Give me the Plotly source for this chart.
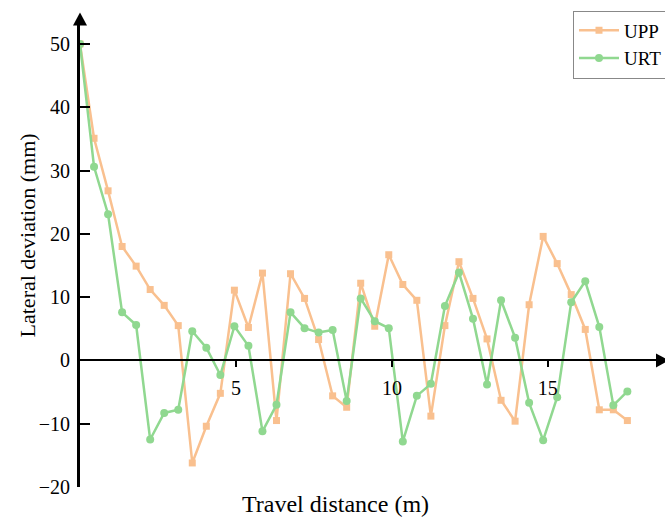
import plotly.graph_objects as go

# ---- data ----
distance_m = [0.0, 0.45, 0.9, 1.35, 1.8, 2.25, 2.7, 3.15, 3.6, 4.05,
              4.5, 4.95, 5.4, 5.85, 6.3, 6.75, 7.2, 7.65, 8.1, 8.55,
              9.0, 9.45, 9.9, 10.35, 10.8, 11.25, 11.7, 12.15, 12.6, 13.05,
              13.5, 13.95, 14.4, 14.85, 15.3, 15.75, 16.2, 16.65, 17.1, 17.55]

upp_mm = [50, 35.1, 26.8, 18.0, 14.9, 11.2, 8.7, 5.5, -16.2, -10.4,
          -5.2, 11.1, 5.2, 13.8, -9.5, 13.7, 9.8, 3.3, -5.6, -7.4,
          12.2, 5.4, 16.7, 12.0, 9.5, -8.8, 5.5, 15.6, 9.8, 3.4,
          -6.3, -9.6, 8.8, 19.6, 15.3, 10.4, 4.9, -7.8, -7.8, -9.5]

urt_mm = [50, 30.6, 23.1, 7.6, 5.6, -12.5, -8.3, -7.8, 4.6, 2.0,
          -2.3, 5.4, 2.3, -11.2, -7.0, 7.6, 5.1, 4.4, 4.8, -6.4,
          9.8, 6.2, 5.1, -12.8, -5.6, -3.7, 8.6, 13.9, 6.6, -3.8,
          9.5, 3.6, -6.7, -12.6, -5.8, 9.2, 12.5, 5.3, -7.1, -4.9]

y_ticks = [-20, -10, 0, 10, 20, 30, 40, 50]
x_ticks = [5, 10, 15]

series_names = ["UPP", "URT"]

# ---- layout geometry (body margin removed by post_script) ----
W, H = 665, 519
ML = 80
MT = 24.5
MB = 519 - 486.6
MR = 665 - 657
PW, PH = W - ML - MR, H - MT - MB
Y_MIN, Y_MAX = -20, 53
X_MIN, X_MAX = 0, 18.5

FONT = "Liberation Serif, Times New Roman, serif"
ORANGE = "#F9C08F"
GREEN = "#90D890"

fig = go.Figure()
fig.add_trace(go.Scatter(
    x=distance_m, y=upp_mm, name=series_names[0], mode="lines+markers",
    line=dict(color=ORANGE, width=2.5),
    marker=dict(symbol="square", size=7, color=ORANGE),
))
fig.add_trace(go.Scatter(
    x=distance_m, y=urt_mm, name=series_names[1], mode="lines+markers",
    line=dict(color=GREEN, width=2.5),
    marker=dict(symbol="circle", size=8, color=GREEN),
))

zero_pos = (0 - Y_MIN) / (Y_MAX - Y_MIN)

# convert screen pixels to paper fractions
def px_x(p):
    return (p - ML) / PW

def px_y(p):
    return (H - MB - p) / PH

# arrow heads
x_tip, x_base = 669, 656
fig.add_shape(type="path", xref="paper", yref="paper",
              path=f"M{px_x(x_base)},{zero_pos + 7/PH} L{px_x(x_tip)},{zero_pos} L{px_x(x_base)},{zero_pos - 7/PH} Z",
              fillcolor="black", line=dict(color="black", width=0), layer="above")
fig.add_shape(type="path", xref="paper", yref="paper",
              path=f"M{-7/PW},{px_y(25)} L0,{px_y(12)} L{7/PW},{px_y(25)} Z",
              fillcolor="black", line=dict(color="black", width=0), layer="above")

fig.add_annotation(text="Travel distance (m)", xref="paper", yref="paper",
                   x=px_x(335), y=px_y(504), xanchor="center", yanchor="middle",
                   showarrow=False, font=dict(family=FONT, size=24, color="black"))
fig.add_annotation(text="Lateral deviation (mm)", xref="paper", yref="paper",
                   x=px_x(27), y=px_y(235), xanchor="center", yanchor="middle",
                   textangle=-90, showarrow=False,
                   font=dict(family=FONT, size=22, color="black"))

fig.update_layout(
    width=W, height=H,
    margin=dict(l=ML, r=MR, t=MT, b=MB, autoexpand=False),
    paper_bgcolor="white", plot_bgcolor="white",
    font=dict(family=FONT, size=20, color="black"),
    showlegend=True,
    legend=dict(x=px_x(573), y=px_y(10), xanchor="left", yanchor="top",
                bordercolor="#888888", borderwidth=1, bgcolor="white",
                font=dict(family=FONT, size=19, color="black"),
                itemwidth=40, tracegroupgap=0),
    xaxis=dict(range=[X_MIN, X_MAX], anchor="free", position=zero_pos,
               showline=True, linecolor="black", linewidth=1.5,
               showgrid=False, zeroline=False,
               tickvals=x_ticks, ticks="outside", ticklen=6, tickwidth=1.5,
               tickcolor="black", ticklabelstandoff=4,
               tickfont=dict(family=FONT, size=20)),
    yaxis=dict(range=[Y_MIN, Y_MAX], showline=True, linecolor="black",
               linewidth=3, showgrid=False, zeroline=False,
               tickvals=y_ticks, ticks="inside", ticklen=10, tickwidth=2,
               tickcolor="black", ticklabelstandoff=3,
               tickfont=dict(family=FONT, size=20)),
)

fig.write_html(
    "out.html",
    config={"displayModeBar": False},
    post_script="document.body.style.margin='0';document.body.style.overflow='hidden';"
                "document.documentElement.style.overflow='hidden';",
)
